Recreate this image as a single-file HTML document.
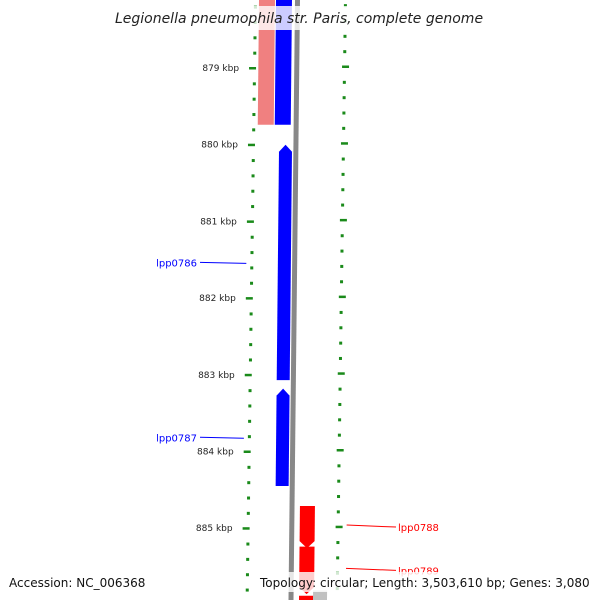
<!DOCTYPE html>
<html><head><meta charset="utf-8"><style>
html,body{margin:0;padding:0;background:#fff;overflow:hidden}
svg{display:block;font-family:"DejaVu Sans","Liberation Sans",sans-serif}
</style></head><body>
<svg id="c" width="600" height="600" viewBox="0 0 600 600">
<g id="ticks"></g>
<g id="genes"></g>
<g id="labels"></g>
<rect x="113" y="6" width="374" height="24" fill="#fff" opacity="0.8"/>
<text x="299" y="23" text-anchor="middle" font-size="14" font-style="italic" fill="#222">Legionella pneumophila str. Paris, complete genome</text>
<rect x="5" y="572" width="118" height="20" fill="#fff" opacity="0.8"/>
<text x="9" y="587" font-size="12" fill="#111">Accession: NC_006368</text>
<rect x="256" y="572" width="340" height="20" fill="#fff" opacity="0.8"/>
<text x="260" y="587" font-size="12" fill="#111">Topology: circular; Length: 3,503,610 bp; Genes: 3,080</text>
</svg>
<script>
const majorTicks=[879,880,881,882,883,884,885];
const tickLabels=["879 kbp","880 kbp","881 kbp","882 kbp","883 kbp","884 kbp","885 kbp"];
const geneNames=["g-top-rev","g-top-blue","lpp0786","lpp0787","lpp0788","lpp0789","g-bottom-red","g-bottom-gray"];
const geneStart=[878.0,878.0,880.0,883.18,884.71,885.24,885.88,885.81];
const geneEnd=[879.74,879.74,883.07,884.45,885.26,885.86,886.2,886.2];
const geneStrand=[-1,-1,-1,-1,1,1,1,1];
const geneLane=[0,1,2,2,3,3,3,4];
const geneColor=["#f08080","#0000ff","#0000ff","#0000ff","#ff0000","#ff0000","#ff0000","#c0c0c0"];
const geneArrow=[0,0,1,1,1,1,0,0];
const labelGene=[2,3,4,5];
const labelText=["lpp0786","lpp0787","lpp0788","lpp0789"];

const NS="http://www.w3.org/2000/svg";
function yOf(k){return 68+(k-879)*76.7;}
function sh(y){return -y*0.014;}
function gs(y){return -y*0.01;}
function mk(tag,attrs,parent){const e=document.createElementNS(NS,tag);for(const k in attrs)e.setAttribute(k,attrs[k]);parent.appendChild(e);return e;}
const T=document.getElementById('ticks'),G=document.getElementById('genes'),L=document.getElementById('labels');
const bb=mk('path',{d:`M297.5,0 L291,600`,stroke:'#888',"stroke-width":5,fill:'none'},G);


for(let k=878.2;k<=886.61;k+=0.2){
  const kk=Math.round(k*10)/10,y=yOf(kk);
  if(y<0||y>597)continue;
  const major=Math.abs(kk-Math.round(kk))<0.01;
  const xl=257+sh(y),xr=344+sh(y);
  const a=mk('rect',{x:major?xl-7:xl-3,y:y-1,width:major?7:3,height:major?2.5:3,fill:'#1a8a1a'},T);
  
  
  const b=mk('rect',{x:major?xr-1:xr,y:y-2.5,width:major?7:3,height:major?2.5:3,fill:'#1a8a1a'},T);
  
  
}
majorTicks.forEach((k,i)=>{
  const y=yOf(k);
  const t=mk('text',{x:240+sh(y),y:y+3,"font-size":9,"text-anchor":"end",fill:'#222'},T);
  t.textContent=tickLabels[i];
  
  
});
const laneX=[259,276,280.5,305,319];
const laneW=[16,16,13,15,14];
geneNames.forEach((n,i)=>{
  let y1=Math.max(-5,yOf(geneStart[i])),y2=Math.min(605,yOf(geneEnd[i]));
  const x0=laneX[geneLane[i]],w=laneW[geneLane[i]];
  const p=(y)=>x0+gs(y);
  let d;
  const ah=7;
  if(geneArrow[i]&&geneStrand[i]<0){
    d=`M${p(y1)+w/2},${y1} L${p(y1+ah)+w},${y1+ah} L${p(y2)+w},${y2} L${p(y2)},${y2} L${p(y1+ah)},${y1+ah} Z`;
  }else if(geneArrow[i]){
    d=`M${p(y1)},${y1} L${p(y1)+w},${y1} L${p(y2-ah)+w},${y2-ah} L${p(y2)+w/2},${y2} L${p(y2-ah)},${y2-ah} Z`;
  }else{
    d=`M${p(y1)},${y1} L${p(y1)+w},${y1} L${p(y2)+w},${y2} L${p(y2)},${y2} Z`;
  }
  const e=mk('path',{d:d,fill:geneColor[i]},G);
  
  
});
labelGene.forEach((gi,i)=>{
  const y=(yOf(geneStart[gi])+yOf(geneEnd[gi]))/2;
  const left=geneStrand[gi]<0;
  const col=left?'#0000ff':'#ff0000';
  if(left){
    mk('line',{x1:200,y1:y,x2:246+sh(y)+4,y2:y+1,stroke:col,"stroke-width":1},L);
    const t=mk('text',{x:197,y:y+4,"font-size":10,"text-anchor":"end",fill:col},L);
    t.textContent=labelText[i];
    
    
  }else{
    mk('line',{x1:347+sh(y)+7,y1:y-2,x2:396,y2:y,stroke:col,"stroke-width":1},L);
    const t=mk('text',{x:398,y:y+4,"font-size":10,fill:col},L);
    t.textContent=labelText[i];
    
    
  }
});
</script>
</body></html>
